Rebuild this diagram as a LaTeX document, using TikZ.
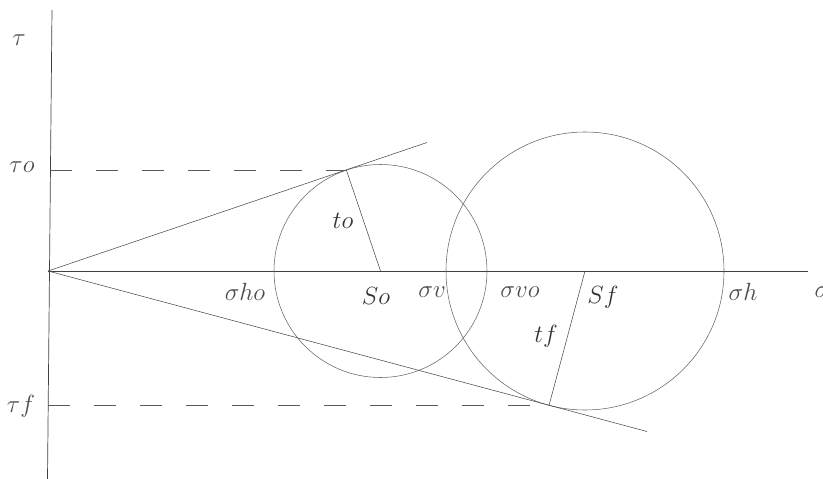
\documentclass[tikz,border=0pt]{standalone}
\usetikzlibrary{calc}
\begin{document}
\begin{tikzpicture}[x=1pt,y=-1pt,
  axis/.style={draw=black!75,line width=0.7pt},
  thin/.style={draw=black!70,line width=0.55pt},
  circ/.style={draw=black!60,line width=0.55pt},
  guide/.style={draw=black!65,line width=0.6pt,dash pattern=on 22pt off 24pt},
  lab/.style={text=black!70,inner sep=0pt,font=\fontsize{24}{28}\selectfont},
  biglab/.style={text=black!80,inner sep=0pt,font=\fontsize{30}{34}\selectfont}]
\useasboundingbox (0,0) rectangle (823,479);
\clip (0,0) rectangle (823,479);
% key points
\coordinate (O) at (48,271);
\coordinate (Vt) at (52,10);
\coordinate (Vb) at (47.5,479);
\coordinate (Hend) at (808,271);
\coordinate (C1) at (380.5,271);
\coordinate (C2) at (585,271);
\coordinate (T1) at (346.4,170.1);
\coordinate (T2) at (549,405.5);
\coordinate (E1) at (427,142.5);
\coordinate (E2) at (647,431.5);
\coordinate (A1) at (50.2,170.1);
\coordinate (A2) at (48.2,405.5);
% axes
\draw[axis] (Vt) -- (Vb);
\draw[axis] (O) -- (Hend);
% circles
\draw[circ] (C1) circle[radius=106.5];
\draw[circ] (C2) circle[radius=139];
% tangent lines
\draw[thin] (O) -- (E1);
\draw[thin] (O) -- (E2);
% radii
\draw[thin] (C1) -- (T1);
\draw[thin] (C2) -- (T2);
% dashed guides
\draw[guide] (A1) -- (T1);
\draw[guide] (A2) -- (T2);
% labels
\node[lab] (ltau) at (19,40) {$\tau$};
\node[lab] (ltau0) at (22,167) {$\tau o$};
\node[lab] (ltauf) at (21,406) {$\tau f$};
\node[lab] (lsho) at (245,292) {$\sigma ho$};
\node[biglab] (lS0) at (376,296) {$So$};
\node[lab] (lsv) at (432,292) {$\sigma v$};
\node[lab] (lsvo) at (520,292) {$\sigma vo$};
\node[biglab] (lSf) at (603,297) {$Sf$};
\node[lab] (lsh) at (743,292) {$\sigma h$};
\node[lab] (lsig) at (822,292) {$\sigma$};
\node[biglab] (lt0) at (343,221) {$to$};
\node[biglab] (ltf) at (546,336) {$tf$};
\end{tikzpicture}
\end{document}
